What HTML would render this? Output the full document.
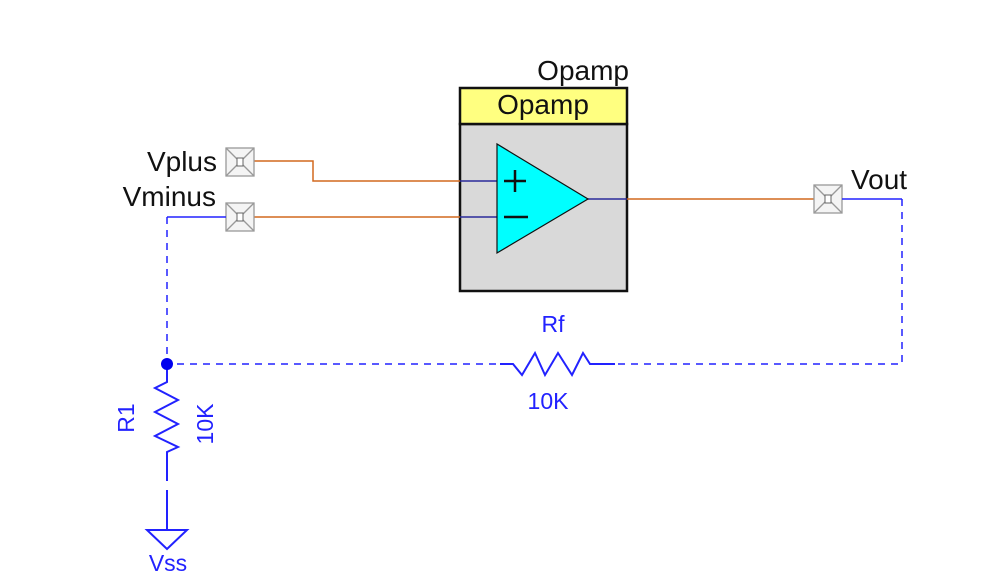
<!DOCTYPE html>
<html><head><meta charset="utf-8"><style>
body{margin:0;background:#fff}
svg{display:block}
text{font-family:"Liberation Sans",sans-serif}
</style></head><body>
<svg width="988" height="581" viewBox="0 0 988 581" xmlns="http://www.w3.org/2000/svg">
<rect width="988" height="581" fill="#fff"/>
<!-- Opamp block -->
<text x="629" y="80" font-size="28" text-anchor="end" fill="#111">Opamp</text>
<rect x="460" y="124" width="167" height="167" fill="#d9d9d9" stroke="#111" stroke-width="2.5"/>
<rect x="460" y="88" width="167" height="36" fill="#ffff80" stroke="#111" stroke-width="2.5"/>
<text x="543" y="114" font-size="28" text-anchor="middle" fill="#111">Opamp</text>
<line x1="460" y1="181" x2="497" y2="181" stroke="#2a2a9a" stroke-width="1.5"/>
<line x1="460" y1="217" x2="497" y2="217" stroke="#2a2a9a" stroke-width="1.5"/>
<line x1="588" y1="199" x2="627" y2="199" stroke="#2a2a9a" stroke-width="1.5"/>
<polygon points="497,144 497,253 588,199" fill="#00ffff" stroke="#111" stroke-width="1.2"/>
<line x1="504" y1="181" x2="526" y2="181" stroke="#111" stroke-width="2.5"/>
<line x1="515" y1="170" x2="515" y2="192" stroke="#111" stroke-width="2.5"/>
<line x1="504" y1="217" x2="528" y2="217" stroke="#111" stroke-width="2.5"/>
<!-- orange wires -->
<polyline points="254,161 313,161 313,181 460,181" fill="none" stroke="#d2691e" stroke-width="1.5"/>
<line x1="254" y1="217" x2="460" y2="217" stroke="#d2691e" stroke-width="1.5"/>
<line x1="627" y1="199" x2="814" y2="199" stroke="#d2691e" stroke-width="1.5"/>
<!-- ports -->
<g stroke="#999" stroke-width="1.3" fill="#f4f4f4">
<rect x="226" y="148" width="28" height="28"/><line x1="226" y1="148" x2="254" y2="176"/><line x1="254" y1="148" x2="226" y2="176"/>
<rect x="226" y="203" width="28" height="28"/><line x1="226" y1="203" x2="254" y2="231"/><line x1="254" y1="203" x2="226" y2="231"/>
<rect x="814" y="185" width="28" height="28"/><line x1="814" y1="185" x2="842" y2="213"/><line x1="842" y1="185" x2="814" y2="213"/>
</g>
<g fill="#fff" stroke="#666" stroke-width="1"><rect x="237" y="158" width="6" height="8"/><rect x="237" y="213" width="6" height="8"/><rect x="825" y="195" width="6" height="8"/></g>
<text x="217" y="171" font-size="28" text-anchor="end" fill="#111">Vplus</text>
<text x="216" y="206" font-size="28" text-anchor="end" fill="#111">Vminus</text>
<text x="851" y="189" font-size="28" fill="#111">Vout</text>
<!-- blue wires -->
<g stroke="#2222ff" stroke-width="1.5" fill="none">
<polyline points="226,217 167,217"/>
<line x1="167" y1="217" x2="167" y2="364" stroke-dasharray="7,6"/>
<polyline points="842,199 902,199"/>
<polyline points="902,199 902,364 615,364" stroke-dasharray="7,6"/>
<line x1="177" y1="364" x2="503" y2="364" stroke-dasharray="7,6"/>
<polyline points="500,364 513,364 522,375 535,353 545,375 558,353 572,375 583,353 590,364 615,364" stroke-width="2"/>
<polyline points="167,364 167,382 155,388 178,400 155,412 178,424 155,436 178,447 167,452 167,481" stroke-width="2"/>
<line x1="167" y1="490" x2="167" y2="530" stroke-width="2"/>
<polygon points="147,530 187,530 167,549" stroke-width="2"/>
</g>
<circle cx="167" cy="364" r="6" fill="#0000ee"/>
<g fill="#2222ff" font-size="23">
<text x="553" y="332" text-anchor="middle">Rf</text>
<text x="548" y="409" text-anchor="middle">10K</text>
<text x="168" y="571" text-anchor="middle">Vss</text>
<text transform="translate(134,418) rotate(-90)" text-anchor="middle">R1</text>
<text transform="translate(213,424) rotate(-90)" text-anchor="middle">10K</text>
</g>
</svg>
</body></html>
